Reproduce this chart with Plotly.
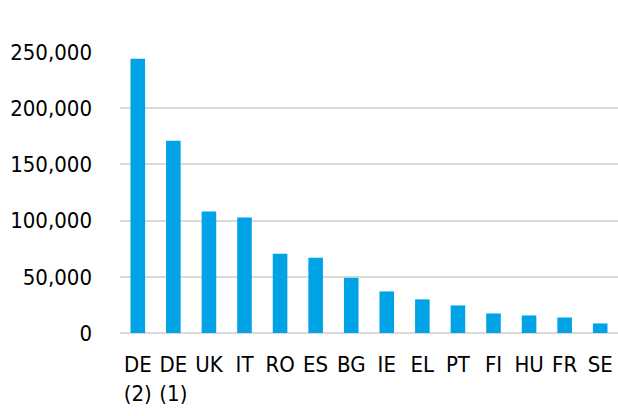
import plotly.graph_objects as go

categories = ["DE<br>(2)", "DE<br>(1)", "UK", "IT", "RO", "ES", "BG", "IE", "EL", "PT", "FI", "HU", "FR", "SE"]
values = [244000, 171000, 108000, 102700, 70500, 67000, 49100, 37000, 29900, 24500, 17400, 15600, 13800, 8500]
tick_vals = [0, 50000, 100000, 150000, 200000, 250000]
tick_text = ["0", "50,000", "100,000", "150,000", "200,000", "250,000"]

font_family = "DejaVu Sans Condensed, Open Sans, sans-serif"

fig = go.Figure(go.Bar(
    x=categories, y=values,
    marker=dict(color="#00A3E6", line=dict(width=0)),
))

fig.update_layout(
    width=618, height=416,
    margin=dict(l=120, r=0, t=52, b=83),
    plot_bgcolor="white", paper_bgcolor="white",
    bargap=0.59,
    showlegend=False,
    font=dict(family=font_family, size=22, color="#000000"),
)
fig.update_yaxes(
    range=[0, 250000], tickvals=tick_vals, ticktext=tick_text,
    showgrid=True, gridcolor="#d9d9d9", gridwidth=2,
    zeroline=True, zerolinecolor="#d9d9d9", zerolinewidth=2,
    ticklabelstandoff=27, showline=False, automargin=False,
)
fig.update_xaxes(
    showgrid=False, showline=False, tickangle=0,
    ticklabelstandoff=16, automargin=False,
)

# remove the browser's default page margin so the figure fills the window
fig.write_html(
    "out.html",
    config={"displayModeBar": False},
    post_script="document.body.style.margin='0';document.body.style.overflow='hidden';",
)
